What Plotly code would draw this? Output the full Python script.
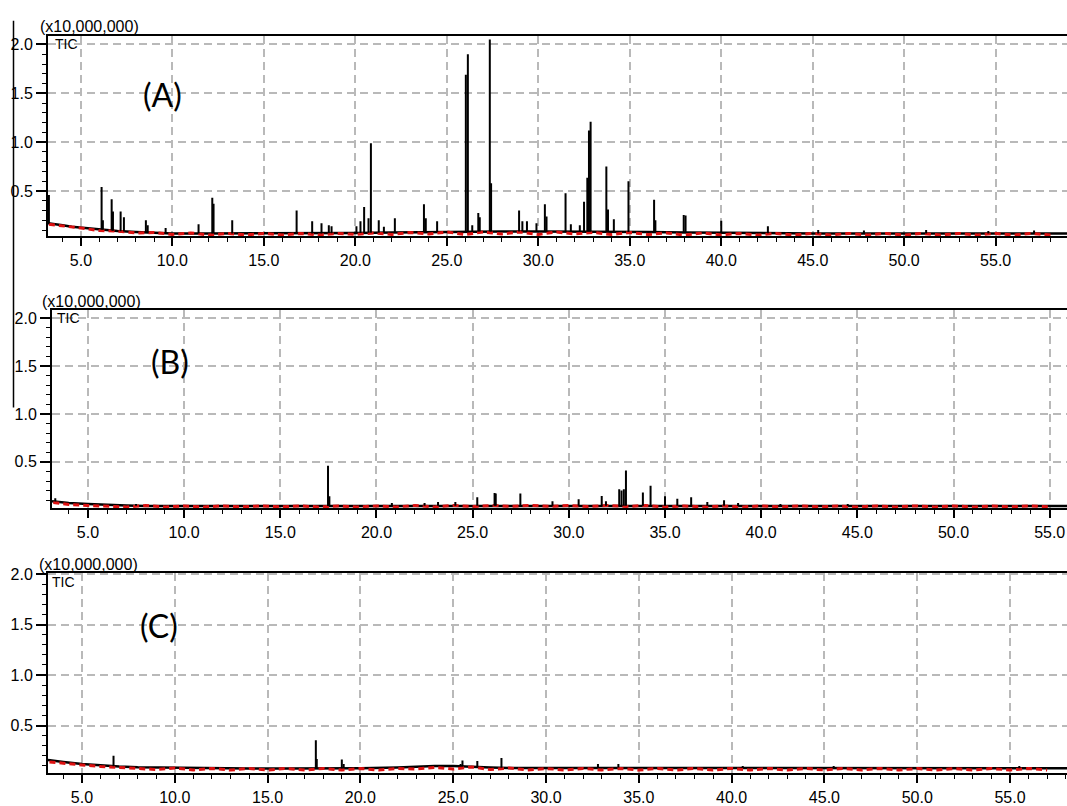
import numpy as np
import plotly.graph_objects as go

W, H = 1067, 806

# ---------------- Panel A ----------------
a_base_rt = [3.2, 3.5, 4, 4.5, 5, 5.5, 6, 7, 8, 9, 10, 12, 14, 16, 18, 20, 22, 24, 26, 28, 30,
             32, 34, 36, 38, 40, 45, 50, 55, 59]
a_base = [0.17, 0.16, 0.15, 0.135, 0.125, 0.115, 0.105, 0.09, 0.08, 0.07, 0.065, 0.065, 0.065,
          0.065, 0.065, 0.07, 0.075, 0.08, 0.085, 0.085, 0.085, 0.085, 0.08, 0.08, 0.075, 0.07,
          0.065, 0.065, 0.065, 0.065]
a_peak_rt = [3.25, 6.13, 6.2, 6.68, 6.75, 7.17, 7.35, 8.55, 8.65, 9.63, 11.43, 12.18, 12.25, 13.27,
             16.79, 17.64, 18.15, 18.55, 18.7, 20.06, 20.28, 20.48, 20.72, 20.85, 21.28, 21.56,
             22.16, 23.75, 23.85, 24.47, 26.04, 26.15, 26.39, 26.72, 26.8, 27.35, 27.42, 28.95,
             29.13, 29.38, 29.9, 30.36, 30.45, 31.49, 31.78, 32.27, 32.5, 32.68, 32.77, 32.86,
             33.72, 33.81, 34.13, 34.93, 36.33, 36.4, 37.95, 38.05, 40.0, 42.55, 45.3, 47.8,
             51.2, 54.6, 57.1]
a_peak_h = [0.46, 0.54, 0.2, 0.415, 0.29, 0.29, 0.23, 0.2, 0.15, 0.12, 0.16, 0.43, 0.37, 0.2,
            0.30, 0.19, 0.17, 0.15, 0.14, 0.14, 0.19, 0.335, 0.22, 0.99, 0.2, 0.135,
            0.22, 0.365, 0.22, 0.19, 1.69, 1.90, 0.15, 0.275, 0.23, 2.05, 0.58, 0.30,
            0.19, 0.19, 0.17, 0.365, 0.24, 0.477, 0.16, 0.15, 0.39, 0.635, 1.12, 1.21,
            0.75, 0.31, 0.21, 0.60, 0.41, 0.2, 0.255, 0.25, 0.195, 0.14, 0.1, 0.095,
            0.1, 0.09, 0.095]
a_red_rt = [3.25] + list(range(4, 59))
a_red = [0.16, 0.14, 0.12, 0.095, 0.09, 0.07, 0.075, 0.055, 0.07, 0.05, 0.065, 0.05, 0.065, 0.05,
         0.065, 0.05, 0.065, 0.055, 0.07, 0.055, 0.075, 0.06, 0.08, 0.055, 0.08, 0.06, 0.08, 0.055,
         0.08, 0.06, 0.075, 0.055, 0.075, 0.055, 0.07, 0.05, 0.07, 0.05, 0.065, 0.05, 0.065,
         0.05, 0.065, 0.05, 0.065, 0.05, 0.065, 0.05, 0.065, 0.05, 0.065, 0.05, 0.065, 0.05,
         0.065, 0.05]

# ---------------- Panel B ----------------
b_base_rt = [3.13, 3.5, 4, 5, 6, 7, 8, 10, 15, 20, 25, 30, 35, 40, 45, 50, 55.9]
b_base = [0.09, 0.08, 0.07, 0.06, 0.05, 0.045, 0.04, 0.04, 0.04, 0.04, 0.042, 0.042, 0.042,
          0.04, 0.04, 0.04, 0.04]
b_peak_rt = [3.3, 3.6, 7.5, 17.48, 17.55, 20.8, 22.5, 23.2, 24.1, 25.24, 26.14, 26.2, 27.48,
             29.15, 30.51, 31.71, 31.93, 32.62, 32.74, 32.86, 32.97, 33.85, 34.25, 35.0, 35.64,
             36.36, 37.2, 38.07, 38.8, 41.0, 44.5]
b_peak_h = [0.12, 0.09, 0.06, 0.46, 0.14, 0.07, 0.07, 0.08, 0.08, 0.13, 0.175, 0.17, 0.17,
            0.09, 0.11, 0.145, 0.09, 0.215, 0.2, 0.215, 0.41, 0.18, 0.25, 0.14, 0.115,
            0.13, 0.08, 0.1, 0.07, 0.06, 0.06]
b_red_rt = [3.2] + list(range(4, 56))
b_red = [0.075, 0.055, 0.045, 0.04, 0.03, 0.045, 0.03, 0.04, 0.03, 0.04, 0.03, 0.04, 0.03,
         0.04, 0.03, 0.04, 0.03, 0.04, 0.03, 0.045, 0.03, 0.045, 0.035, 0.045, 0.035, 0.045,
         0.035, 0.045, 0.035, 0.045, 0.035, 0.045, 0.03, 0.04, 0.03, 0.04, 0.03, 0.04, 0.03,
         0.04, 0.03, 0.04, 0.03, 0.04, 0.03, 0.04, 0.03, 0.04, 0.03, 0.04, 0.03,
         0.04, 0.03]

# ---------------- Panel C ----------------
c_base_rt = [3.17, 3.5, 4, 5, 6, 7, 8, 9, 10, 12, 14, 16, 18, 20, 22, 23, 24, 25, 26, 27, 28,
             30, 35, 40, 45, 50, 55, 58.07]
c_base = [0.16, 0.15, 0.14, 0.12, 0.105, 0.095, 0.088, 0.085, 0.082, 0.078, 0.075, 0.075, 0.075,
          0.078, 0.085, 0.095, 0.1, 0.1, 0.09, 0.085, 0.08, 0.08, 0.085, 0.08, 0.08, 0.078,
          0.078, 0.078]
c_peak_rt = [3.25, 6.7, 17.6, 17.65, 19.0, 19.1, 25.4, 25.5, 26.3, 27.6, 32.8, 33.9, 40.6,
             45.5, 55.5]
c_peak_h = [0.17, 0.20, 0.355, 0.17, 0.165, 0.12, 0.12, 0.155, 0.15, 0.18, 0.12, 0.12, 0.1,
            0.1, 0.1]
c_red_rt = [3.25] + list(range(4, 58))
c_red = [0.14, 0.125, 0.11, 0.095, 0.085, 0.075, 0.065, 0.08, 0.06, 0.075, 0.06, 0.075, 0.06, 0.075,
         0.06, 0.075, 0.06, 0.075, 0.06, 0.075, 0.07, 0.085, 0.07, 0.09, 0.065, 0.08, 0.06,
         0.075, 0.06, 0.075, 0.06, 0.075, 0.06, 0.075, 0.06, 0.075, 0.06, 0.075, 0.06, 0.075,
         0.06, 0.075, 0.06, 0.075, 0.06, 0.075, 0.06, 0.075, 0.06, 0.075, 0.06, 0.075, 0.06,
         0.075, 0.06]

panels = [
    dict(name="(A)", base_rt=a_base_rt, base=a_base, prt=a_peak_rt, ph=a_peak_h,
         rrt=a_red_rt, red=a_red, xr=[3.2, 58.9], yr=[0.035, 2.09], top=29, bot=232, left=48,
         lab=(162, 88), tic=(53, 37), unit=(38, 20)),
    dict(name="(B)", base_rt=b_base_rt, base=b_base, prt=b_peak_rt, ph=b_peak_h,
         rrt=b_red_rt, red=b_red, xr=[3.13, 55.9], yr=[0.015, 2.09], top=306, bot=507, left=52,
         lab=(170, 359), tic=(55, 315), unit=(40, 298)),
    dict(name="(C)", base_rt=c_base_rt, base=c_base, prt=c_peak_rt, ph=c_peak_h,
         rrt=c_red_rt, red=c_red, xr=[3.17, 58.07], yr=[0.027, 2.014], top=572, bot=775, left=48,
         lab=(159, 625), tic=(50, 581), unit=(37, 564)),
]

fig = go.Figure()
annotations = []
FONT = "Liberation Sans, Arial, sans-serif"

for i, p in enumerate(panels):
    n = "" if i == 0 else str(i + 1)
    xa, ya = "x" + n, "y" + n
    # black baseline
    fig.add_trace(go.Scatter(x=p["base_rt"], y=p["base"], mode="lines", xaxis=xa, yaxis=ya,
                             line=dict(color="black", width=2.5), showlegend=False,
                             hoverinfo="skip"))
    # red trace (on top, broken)
    fig.add_trace(go.Scatter(x=p["rrt"], y=p["red"], mode="lines", xaxis=xa, yaxis=ya,
                             line=dict(color="#dd1111", width=3, dash="6px,4px"),
                             showlegend=False, hoverinfo="skip"))
    # peaks as vertical spikes
    sx, sy = [], []
    for rt, h in zip(p["prt"], p["ph"]):
        foot = float(np.interp(rt, p["base_rt"], p["base"]))
        sx += [rt, rt, None]
        sy += [foot, h, None]
    fig.add_trace(go.Scatter(x=sx, y=sy, mode="lines", xaxis=xa, yaxis=ya,
                             line=dict(color="black", width=2), showlegend=False,
                             connectgaps=False, hoverinfo="skip"))

    dom_y = [(H - p["bot"]) / H, (H - p["top"]) / H]
    xkw = dict(domain=[p["left"] / W, 1.0], range=p["xr"], anchor=ya,
               showline=True, linecolor="black", linewidth=2, mirror=True,
               ticks="outside", ticklen=8, tickwidth=1.5, tickcolor="black",
               dtick=5, tick0=0, tickformat=".1f",
               tickfont=dict(family=FONT, size=16, color="black"),
               minor=dict(dtick=1, ticks="outside", ticklen=4, tickwidth=1.2,
                          tickcolor="black", showgrid=False),
               showgrid=True, gridcolor="#b9b9b9", gridwidth=1.5, griddash="8px,5px",
               zeroline=False)
    ykw = dict(domain=dom_y, range=p["yr"], anchor=xa,
               showline=True, linecolor="black", linewidth=2, mirror=False,
               ticks="outside", ticklen=10, tickwidth=1.5, tickcolor="black",
               dtick=0.5, tick0=0, tickformat=".1f",
               tickfont=dict(family=FONT, size=16, color="black"),
               minor=dict(dtick=0.1, ticks="outside", ticklen=4, tickwidth=1.2,
                          tickcolor="black", showgrid=False),
               showgrid=True, gridcolor="#b9b9b9", gridwidth=1.5, griddash="8px,5px",
               zeroline=False)
    fig.update_layout(**{"xaxis" + n: xkw, "yaxis" + n: ykw})

    annotations.append(dict(text=p["name"], xref="paper", yref="paper",
                            x=p["lab"][0] / W, y=1 - p["lab"][1] / H, xanchor="center",
                            yanchor="middle", showarrow=False,
                            font=dict(family="Lato, Open Sans, sans-serif", size=32,
                                      color="black")))
    annotations.append(dict(text="TIC", xref="paper", yref="paper",
                            x=p["tic"][0] / W, y=1 - p["tic"][1] / H, xanchor="left",
                            yanchor="middle", showarrow=False,
                            font=dict(family=FONT, size=14, color="black")))
    annotations.append(dict(text="(x10,000,000)", xref="paper", yref="paper",
                            x=p["unit"][0] / W, y=1 - p["unit"][1] / H, xanchor="left",
                            yanchor="middle", showarrow=False,
                            font=dict(family=FONT, size=16, color="black")))

fig.update_layout(
    width=W, height=H, margin=dict(l=0, r=0, t=0, b=0),
    paper_bgcolor="white", plot_bgcolor="white",
    annotations=annotations,
    shapes=[dict(type="line", xref="paper", yref="paper", x0=13.5 / W, x1=13.5 / W,
                 y0=1 - 14 / H, y1=1 - 405 / H, line=dict(color="black", width=1.5))],
)

fig.write_html(
    "out.html",
    config={"displayModeBar": False},
    post_script="document.body.style.margin='0';document.body.style.overflow='hidden';"
                "document.documentElement.style.overflow='hidden';",
)
